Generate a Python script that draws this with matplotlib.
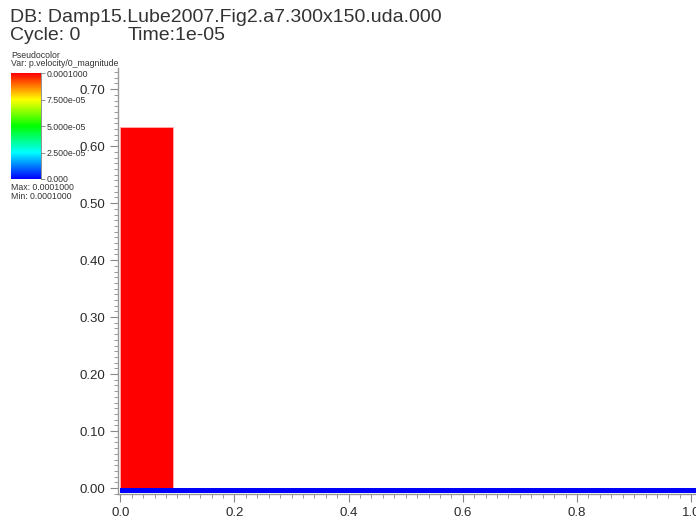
import numpy as np
import matplotlib
matplotlib.use("Agg")
import matplotlib.pyplot as plt
from matplotlib.colors import LinearSegmentedColormap, Normalize
from matplotlib.ticker import MultipleLocator, FormatStrFormatter

plt.rcParams['font.family'] = ['Liberation Sans', 'DejaVu Sans']

# material blocks: left edge, width, bottom, height, velocity magnitude
block_x = [0.0, 0.0]
block_w = [0.092, 1.05]
block_y = [0.0, -0.009]
block_h = [0.633, 0.009]
block_v = [1.0e-4, 0.0]

cbar_ticks = [0.0, 2.5e-5, 5.0e-5, 7.5e-5, 1.0e-4]
cbar_labels = ["0.000", "2.500e-05", "5.000e-05", "7.500e-05", "0.0001000"]

db_name = "Damp15.Lube2007.Fig2.a7.300x150.uda.000"
cycle = 0
time = "1e-05"

hot = LinearSegmentedColormap.from_list(
    "hot", ["#0000ff", "#00ffff", "#00ff00", "#ffff00", "#ff0000"])
norm = Normalize(0.0, 1.0e-4)

fig = plt.figure(figsize=(6.96, 5.22), dpi=100)
ax = fig.add_axes([0.1695, 0.0536, 0.84, 0.816])

for x, w, y, h, v in zip(block_x, block_w, block_y, block_h, block_v):
    ax.bar(x, h, width=w, bottom=y, align='edge', color=hot(norm(v)),
           edgecolor='#ffb0b0' if v > 0 else 'none', linewidth=0.6, zorder=2)

ax.set_xlim(-0.004, 1.02)
ax.set_ylim(-0.0105, 0.737)
ax.spines['top'].set_visible(False)
ax.spines['right'].set_visible(False)
for s in ('left', 'bottom'):
    ax.spines[s].set_color('#999999')
    ax.spines[s].set_linewidth(1.0)

ax.xaxis.set_major_locator(MultipleLocator(0.2))
ax.xaxis.set_minor_locator(MultipleLocator(0.02))
ax.yaxis.set_major_locator(MultipleLocator(0.1))
ax.yaxis.set_minor_locator(MultipleLocator(0.01))
ax.xaxis.set_major_formatter(FormatStrFormatter('%.1f'))
ax.yaxis.set_major_formatter(FormatStrFormatter('%.2f'))
ax.tick_params(which='major', direction='out', length=6, width=0.8,
               color='#888888', labelsize=9.5, labelcolor='#2a2a2a', pad=3)
ax.tick_params(which='minor', direction='out', length=3, width=0.6,
               color='#888888')

title_kw = dict(fontsize=14, color='#333333', va='center', ha='left')
fig.text(0.015, 1 - 17 / 522, "DB: " + db_name, **title_kw)
fig.text(0.015, 1 - 35 / 522, "Cycle: %d" % cycle, **title_kw)
fig.text(0.183, 1 - 35 / 522, "Time:" + time, **title_kw)

# colour legend
cax = fig.add_axes([0.016, 1 - 179 / 522, 0.043, 106 / 522])
grad = np.linspace(0, 1.0e-4, 256).reshape(-1, 1)
cax.imshow(grad, aspect='auto', cmap=hot, norm=norm, origin='lower',
           extent=[0, 1, 0, 1.0e-4])
cax.set_xticks([])
cax.yaxis.tick_right()
cax.set_yticks(cbar_ticks)
cax.set_yticklabels(cbar_labels)
cax.tick_params(axis='y', direction='out', length=3, width=0.5,
                color='#666666', labelsize=6.3, labelcolor='#333333', pad=1)
for s in cax.spines.values():
    s.set_visible(False)
cax.spines['right'].set_visible(True)
cax.spines['right'].set_color('#666666')
cax.spines['right'].set_linewidth(0.5)

small_kw = dict(fontsize=6.3, color='#333333', va='center')
fig.text(0.016, 1 - 55 / 522, "Pseudocolor", **small_kw)
fig.text(0.016, 1 - 64 / 522, "Var: p.velocity/0_magnitude", **small_kw)
fig.text(0.016, 1 - 188 / 522, "Max: 0.0001000", **small_kw)
fig.text(0.016, 1 - 196 / 522, "Min: 0.0001000", **small_kw)

fig.savefig("out.png", dpi=100)
